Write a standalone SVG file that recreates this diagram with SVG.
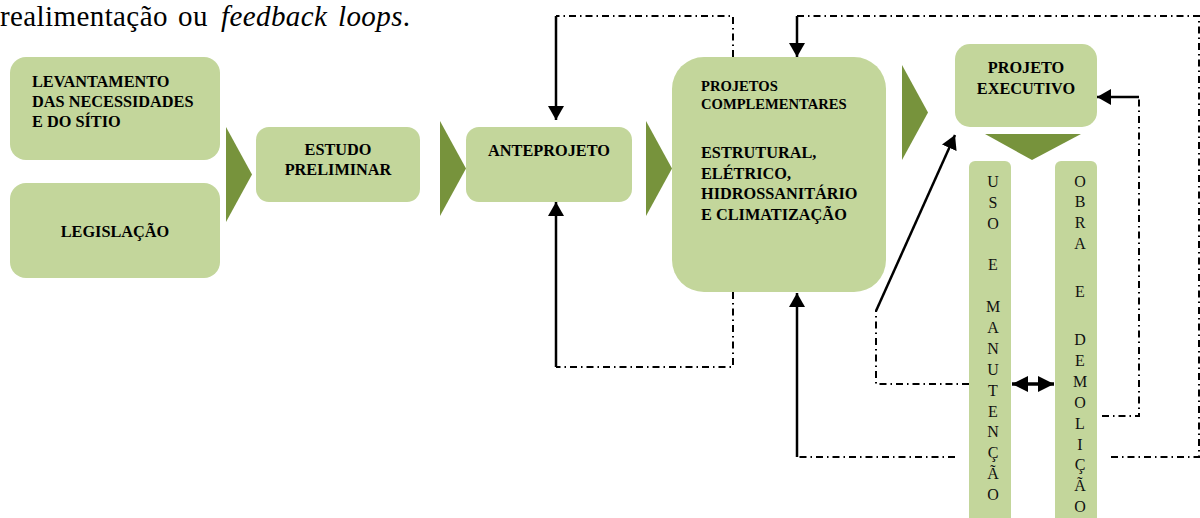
<svg xmlns="http://www.w3.org/2000/svg" width="1200" height="518" viewBox="0 0 1200 518">
  <defs>
    <style>
      .box { fill: #C3D69B; }
      .chev { fill: #77933C; }
      .title { font-family: "Liberation Serif", "DejaVu Serif", serif; font-size: 29px; letter-spacing: 0.4px; fill: #000; }
      .it { font-style: italic; }
      .lbl { font-family: "Liberation Serif", "DejaVu Serif", serif; font-weight: bold; font-size: 16.3px; fill: #000; }
      .sm { font-size: 14.6px; }
      .mid { text-anchor: middle; }
      .vert { font-family: "Liberation Serif", "DejaVu Serif", serif; font-size: 16px; fill: #111; text-anchor: middle; }
      .solid { fill: none; stroke: #000; stroke-width: 2.5; }
      .dd { fill: none; stroke: #000; stroke-width: 2; stroke-dasharray: 7 4 1.5 4; }
    </style>
    <marker id="head" viewBox="0 0 14 16" refX="14" refY="8" markerWidth="14" markerHeight="16" markerUnits="userSpaceOnUse" orient="auto">
      <path d="M0,0 L14,8 L0,16 Z" fill="#000"/>
    </marker>
    <marker id="head2" viewBox="0 0 16 16" refX="16" refY="8" markerWidth="16" markerHeight="16" markerUnits="userSpaceOnUse" orient="auto-start-reverse">
      <path d="M0,0 L16,8 L0,16 Z" fill="#000"/>
    </marker>
  </defs>

  <!-- justified line of running text above the chart -->
  <text class="title" y="26"><tspan x="0">realimentação</tspan> <tspan x="178">ou</tspan> <tspan class="it" x="221">feedback</tspan> <tspan class="it" x="338">loops</tspan>.</text>

  <!-- process chevrons -->
  <g id="chevrons">
    <polygon class="chev" points="226,127 252,174.5 226,222"/>
    <polygon class="chev" points="440,121 466,168.5 440,216"/>
    <polygon class="chev" points="646,121 672,168.5 646,216"/>
    <polygon class="chev" points="902,65 928,112.5 902,160"/>
    <polygon class="chev" points="985,134 1081,134 1032,160"/>
  </g>

  <g id="levantamento">
    <rect class="box" x="10" y="57" width="210" height="103" rx="16"/>
    <text class="lbl" x="32" y="87">LEVANTAMENTO</text>
    <text class="lbl" x="32" y="107">DAS NECESSIDADES</text>
    <text class="lbl" x="32" y="127">E DO SÍTIO</text>
  </g>

  <g id="legislacao">
    <rect class="box" x="10" y="183" width="210" height="95" rx="16"/>
    <text class="lbl mid" x="115" y="237">LEGISLAÇÃO</text>
  </g>

  <g id="estudo-preliminar">
    <rect class="box" x="256" y="127" width="164" height="75" rx="13"/>
    <text class="lbl mid" x="338" y="155">ESTUDO</text>
    <text class="lbl mid" x="338" y="175">PRELIMINAR</text>
  </g>

  <g id="anteprojeto">
    <rect class="box" x="466" y="127" width="166" height="75" rx="13"/>
    <text class="lbl mid" x="549" y="156">ANTEPROJETO</text>
  </g>

  <g id="projetos-complementares">
    <rect class="box" x="672" y="57" width="214" height="235" rx="32"/>
    <text class="lbl sm" x="701" y="91">PROJETOS</text>
    <text class="lbl sm" x="701" y="109">COMPLEMENTARES</text>
    <text class="lbl" x="701" y="158">ESTRUTURAL,</text>
    <text class="lbl" x="701" y="179">ELÉTRICO,</text>
    <text class="lbl" x="701" y="199">HIDROSSANITÁRIO</text>
    <text class="lbl" x="701" y="220">E CLIMATIZAÇÃO</text>
  </g>

  <g id="projeto-executivo">
    <rect class="box" x="955" y="44" width="142" height="83" rx="15"/>
    <text class="lbl mid" x="1026" y="73">PROJETO</text>
    <text class="lbl mid" x="1026" y="94">EXECUTIVO</text>
  </g>

  <g id="uso-manutencao">
    <rect class="box" x="969" y="161" width="42" height="370" rx="6"/>
    <text class="vert" x="993" y="187">U</text>
    <text class="vert" x="993" y="208">S</text>
    <text class="vert" x="993" y="229">O</text>
    <text class="vert" x="993" y="270">E</text>
    <text class="vert" x="993" y="312">M</text>
    <text class="vert" x="993" y="333">A</text>
    <text class="vert" x="993" y="354">N</text>
    <text class="vert" x="993" y="375">U</text>
    <text class="vert" x="993" y="396">T</text>
    <text class="vert" x="993" y="417">E</text>
    <text class="vert" x="993" y="437">N</text>
    <text class="vert" x="993" y="458">Ç</text>
    <text class="vert" x="993" y="479">Ã</text>
    <text class="vert" x="993" y="500">O</text>
  </g>

  <g id="obra-demolicao">
    <rect class="box" x="1055" y="161" width="42" height="370" rx="6"/>
    <text class="vert" x="1080" y="187">O</text>
    <text class="vert" x="1080" y="207">B</text>
    <text class="vert" x="1080" y="228">R</text>
    <text class="vert" x="1080" y="249">A</text>
    <text class="vert" x="1080" y="297">E</text>
    <text class="vert" x="1080" y="345">D</text>
    <text class="vert" x="1080" y="366">E</text>
    <text class="vert" x="1080" y="387">M</text>
    <text class="vert" x="1080" y="408">O</text>
    <text class="vert" x="1080" y="429">L</text>
    <text class="vert" x="1080" y="450">I</text>
    <text class="vert" x="1080" y="470">Ç</text>
    <text class="vert" x="1080" y="491">Ã</text>
    <text class="vert" x="1080" y="512">O</text>
  </g>

  <g id="connectors">
    <!-- feedback into ANTEPROJETO -->
    <polyline class="dd" points="733,57 733,16 556,16"/>
    <line class="solid" x1="556" y1="16" x2="556" y2="120" marker-end="url(#head)"/>
    <polyline class="dd" points="733,292 733,367 556,367"/>
    <line class="solid" x1="556" y1="367" x2="556" y2="202" marker-end="url(#head)"/>

    <!-- outer loop into PROJETOS COMPLEMENTARES -->
    <polyline class="dd" points="797,16 1199,16 1199,457 1107,457"/>
    <line class="solid" x1="797" y1="16" x2="797" y2="57" marker-end="url(#head)"/>
    <polyline class="dd" points="955,457 797,457"/>
    <line class="solid" x1="797" y1="457" x2="797" y2="293" marker-end="url(#head)"/>

    <!-- OBRA back to PROJETO EXECUTIVO -->
    <polyline class="dd" points="1102,416 1139,416 1139,97"/>
    <line class="solid" x1="1139" y1="97" x2="1097" y2="97" marker-end="url(#head)"/>

    <!-- USO back to PROJETO EXECUTIVO -->
    <polyline class="dd" points="969,384 876,384 876,310"/>
    <line class="solid" x1="876" y1="311" x2="955" y2="135" marker-end="url(#head)"/>

    <!-- USO <-> OBRA -->
    <line x1="1012" y1="384" x2="1054" y2="384" stroke="#000" stroke-width="3.5" marker-start="url(#head2)" marker-end="url(#head2)"/>
  </g>
</svg>
